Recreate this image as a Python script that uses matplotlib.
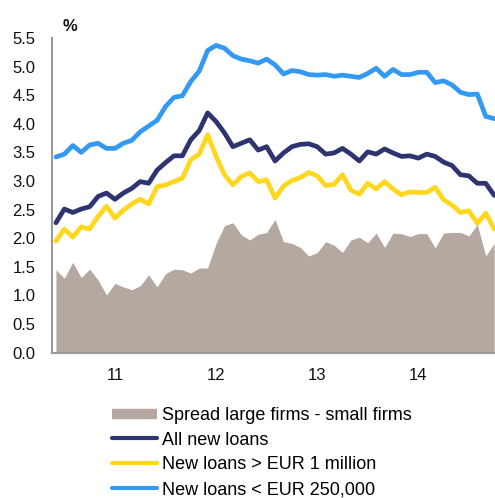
import matplotlib
matplotlib.use("Agg")
import matplotlib.pyplot as plt
from matplotlib.lines import Line2D
import numpy as np

plt.rcParams["font.family"] = ["Liberation Sans", "DejaVu Sans"]

# Monthly interest rates on new loans to firms (%)
small_loans = [3.42, 3.47, 3.62, 3.50, 3.63, 3.66, 3.57, 3.57, 3.66, 3.71,
               3.86, 3.96, 4.06, 4.30, 4.46, 4.49, 4.74, 4.92, 5.28, 5.37,
               5.32, 5.19, 5.13, 5.10, 5.06, 5.13, 5.03, 4.87, 4.93, 4.91,
               4.86, 4.85, 4.86, 4.83, 4.85, 4.83, 4.81, 4.88, 4.97, 4.83,
               4.95, 4.86, 4.86, 4.90, 4.90, 4.72, 4.75, 4.68, 4.55, 4.51,
               4.52, 4.13, 4.09]
all_loans = [2.27, 2.51, 2.45, 2.51, 2.55, 2.73, 2.79, 2.68, 2.79, 2.87,
             2.99, 2.96, 3.19, 3.32, 3.44, 3.44, 3.72, 3.88, 4.19, 4.04,
             3.84, 3.60, 3.66, 3.72, 3.54, 3.60, 3.35, 3.49, 3.60, 3.64,
             3.65, 3.60, 3.47, 3.49, 3.57, 3.47, 3.35, 3.51, 3.47, 3.56,
             3.49, 3.43, 3.44, 3.40, 3.47, 3.43, 3.33, 3.27, 3.11, 3.09,
             2.96, 2.96, 2.75]
large_loans = [1.95, 2.16, 2.02, 2.20, 2.16, 2.38, 2.56, 2.35, 2.49, 2.60,
               2.68, 2.60, 2.90, 2.93, 2.99, 3.05, 3.37, 3.47, 3.81, 3.43,
               3.11, 2.93, 3.08, 3.14, 2.99, 3.02, 2.70, 2.91, 3.01, 3.06,
               3.15, 3.09, 2.92, 2.94, 3.11, 2.84, 2.77, 2.96, 2.86, 2.99,
               2.86, 2.76, 2.81, 2.80, 2.80, 2.89, 2.67, 2.58, 2.45, 2.48,
               2.26, 2.44, 2.16]
spread = [1.45, 1.30, 1.58, 1.31, 1.46, 1.27, 1.01, 1.21, 1.15, 1.10,
          1.17, 1.36, 1.15, 1.38, 1.46, 1.45, 1.39, 1.48, 1.48, 1.91,
          2.22, 2.27, 2.06, 1.97, 2.07, 2.10, 2.33, 1.94, 1.91, 1.84,
          1.69, 1.75, 1.94, 1.88, 1.75, 1.97, 2.02, 1.92, 2.09, 1.84,
          2.09, 2.08, 2.03, 2.08, 2.08, 1.83, 2.09, 2.10, 2.10, 2.04,
          2.24, 1.69, 1.91]

year_ticks = [7, 19, 31, 43]
year_labels = ["11", "12", "13", "14"]
y_ticks = [0.0, 0.5, 1.0, 1.5, 2.0, 2.5, 3.0, 3.5, 4.0, 4.5, 5.0, 5.5]

c_spread = "#B5A8A0"
c_all = "#2E3470"
c_large = "#FFD71F"
c_small = "#3399F3"

fig = plt.figure(figsize=(4.95, 4.98), dpi=100)
ax = fig.add_axes([0.105, 0.2918, 0.895, 0.632])

x = np.arange(len(spread))
ax.fill_between(x, 0, spread, color=c_spread, lw=0, zorder=1)
lw = 3.4
ax.plot(x, all_loans, color=c_all, lw=lw, solid_joinstyle="round",
        solid_capstyle="round", zorder=3)
ax.plot(x, large_loans, color=c_large, lw=lw, solid_joinstyle="round",
        solid_capstyle="round", zorder=3)
ax.plot(x, small_loans, color=c_small, lw=lw, solid_joinstyle="round",
        solid_capstyle="round", zorder=3)

ax.set_xlim(-0.47, 52.1)
ax.set_ylim(0, 5.5)
ax.set_yticks(y_ticks)
ax.set_yticklabels([f"{v:.1f}" for v in y_ticks])
ax.set_xticks(year_ticks)
ax.set_xticklabels(year_labels)
ax.tick_params(axis="both", length=0, labelsize=12, colors="#111111")
ax.tick_params(axis="y", pad=12)
ax.tick_params(axis="x", pad=11)

for side in ("top", "right"):
    ax.spines[side].set_visible(False)
for side in ("left", "bottom"):
    ax.spines[side].set_color("#999999")
    ax.spines[side].set_linewidth(1.5)
ax.spines["left"].set_zorder(5)
ax.spines["bottom"].set_zorder(5)

fig.text(0.127, 0.946, "%", fontsize=12, fontweight="bold", ha="left",
         va="center", color="#111111")

handles = [
    Line2D([], [], color=c_spread, lw=7.5, solid_capstyle="butt"),
    Line2D([], [], color=c_all, lw=3, solid_capstyle="round"),
    Line2D([], [], color=c_large, lw=3, solid_capstyle="round"),
    Line2D([], [], color=c_small, lw=3, solid_capstyle="round"),
]
labels = ["Spread large firms - small firms", "All new loans",
          "New loans > EUR 1 million", "New loans < EUR 250,000"]
fig.legend(handles, labels, loc="upper left", bbox_to_anchor=(0.226, 0.183),
           frameon=False, fontsize=13, handlelength=2.5, handletextpad=0.28,
           labelspacing=0.43, borderpad=0, borderaxespad=0)

fig.savefig("out.png", dpi=100)
